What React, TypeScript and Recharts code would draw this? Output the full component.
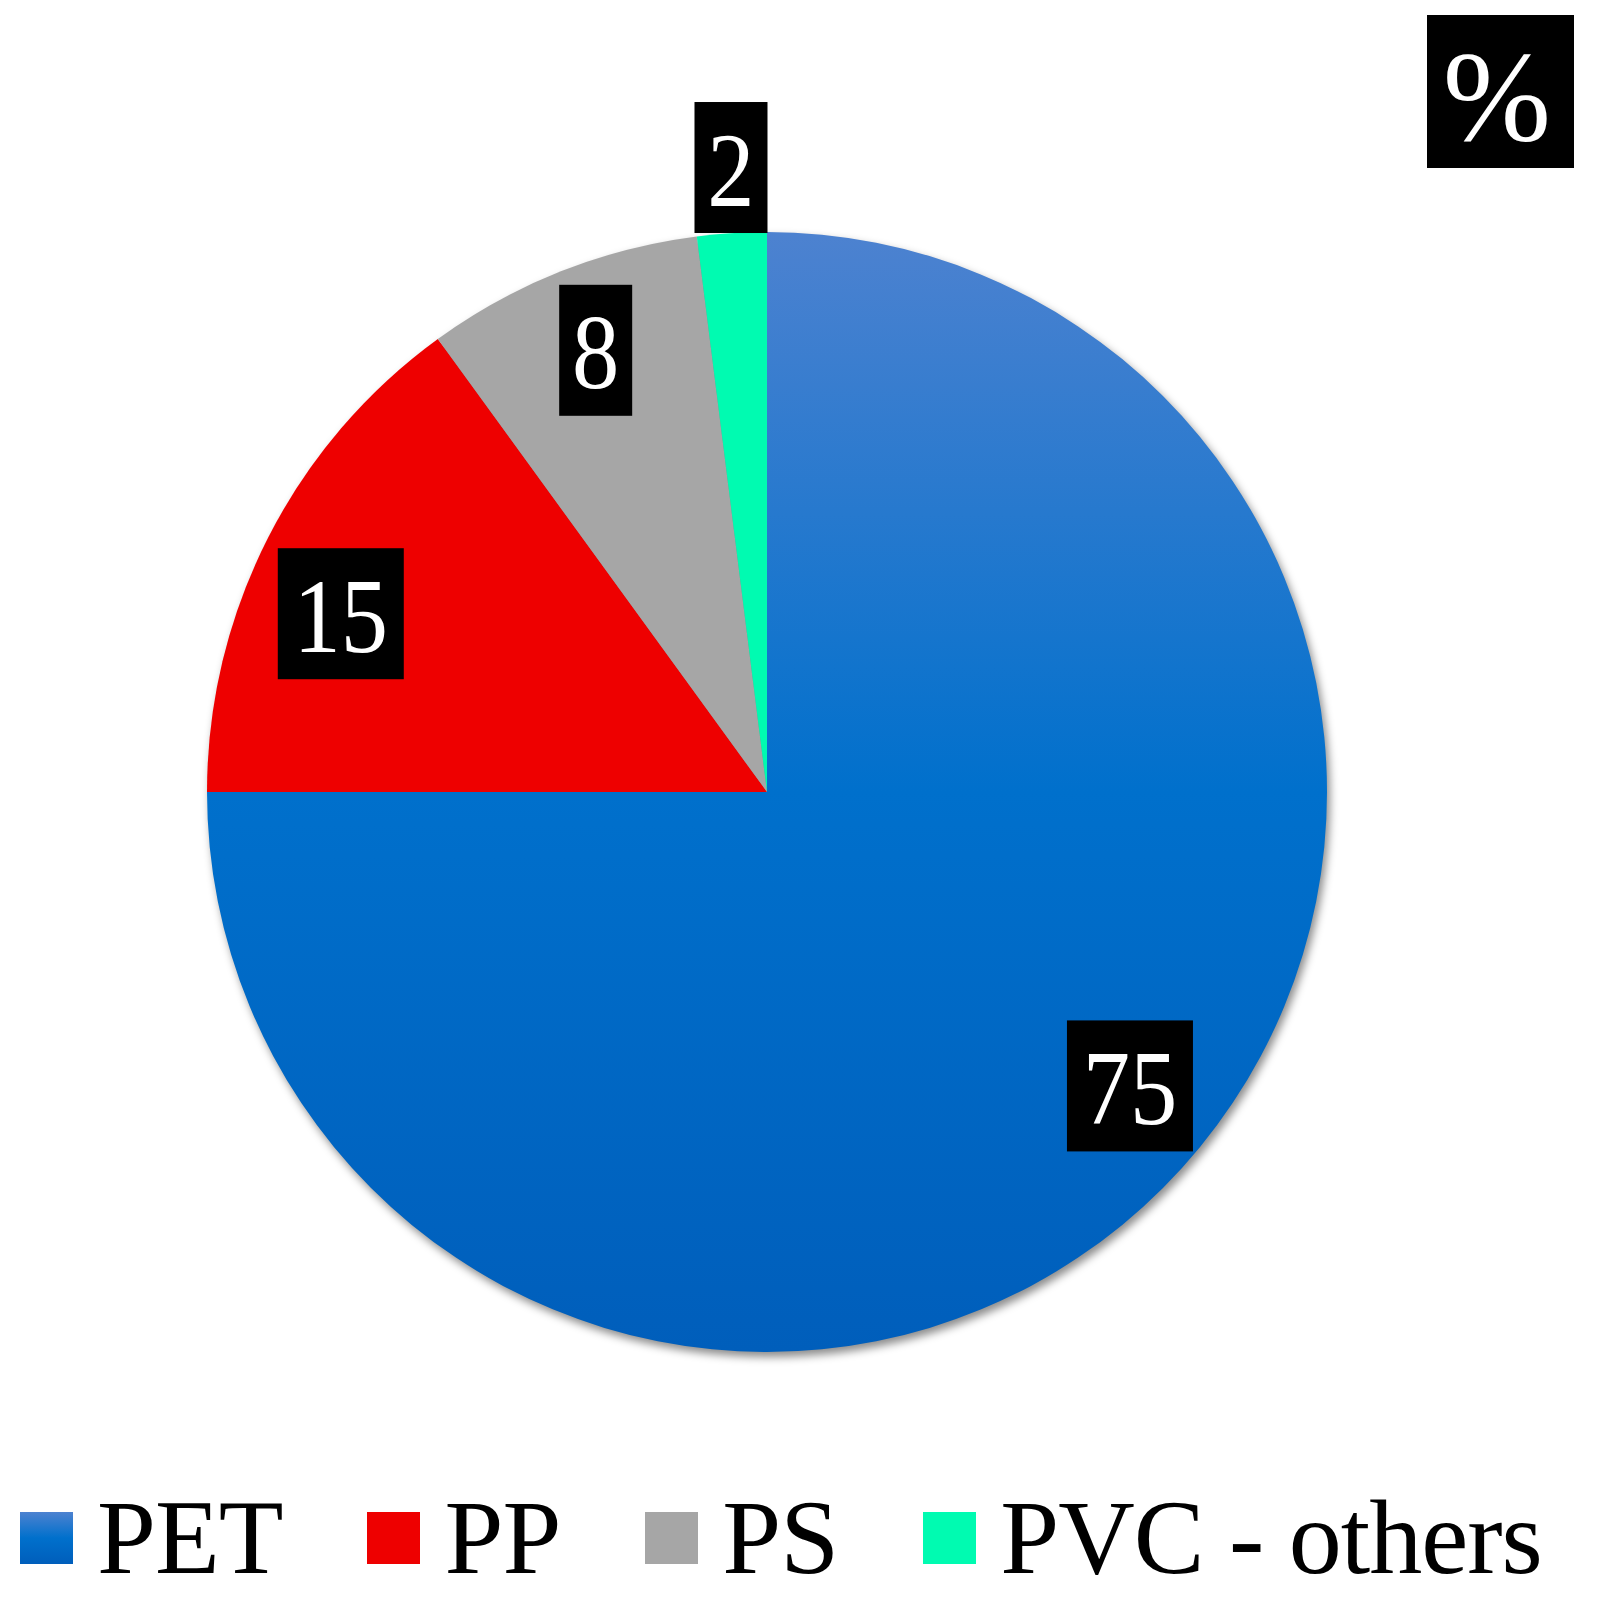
import React from 'react';
import { PieChart, Pie, Cell, Legend } from 'recharts';

const categories = ['PET', 'PP', 'PS', 'PVC - others'];
const shares = [75, 15, 8, 2];

const data = categories.map((name, i) => ({ name, value: shares[i] }));
const whole = [{ name: 'all', value: shares.reduce((a, b) => a + b, 0) }];

const FILLS = ['url(#petFill)', '#EE0000', '#A6A6A6', '#00FBB1'];
const SWATCHES = ['linear-gradient(#4d82d0, #0070cc 50%, #005ebb)', '#EE0000', '#A6A6A6', '#00FBB1'];

// where each value box sits: distance as share of radius, angle shift in degrees
const LABEL_POS = [
  { r: 0.834, shift: 6 },
  { r: 0.825, shift: 4.3 },
  { r: 0.846, shift: -0.4 },
  { r: 1.117, shift: -0.3 },
];

const SERIF = "'Liberation Serif', 'Times New Roman', serif";
const RAD = Math.PI / 180;

const renderLabel = (props: any) => {
  const { cx, cy, midAngle, outerRadius, index, value } = props;
  const pos = LABEL_POS[index];
  const a = (midAngle + pos.shift) * RAD;
  const x = cx + outerRadius * pos.r * Math.cos(a);
  const y = cy - outerRadius * pos.r * Math.sin(a);
  const text = String(value);
  const w = text.length * 53 + 20;
  const h = 131;
  return (
    <g key={`lbl-${index}`}>
      <rect x={x - w / 2} y={y - h / 2} width={w} height={h} fill="#000" />
      <text
        transform={`translate(${x},${y + 38}) scale(0.9,1)`}
        textAnchor="middle"
        fill="#fff"
        fontSize={105}
        fontFamily={SERIF}
      >
        {text}
      </text>
    </g>
  );
};

const renderLegend = () => (
  <div style={{ display: 'flex', alignItems: 'center' }}>
    {categories.map((c, i) => (
      <div key={c} style={{ display: 'flex', alignItems: 'center', marginRight: 85 }}>
        <span style={{ display: 'inline-block', width: 53, height: 52, background: SWATCHES[i], marginRight: 24 }} />
        <span style={{ fontFamily: SERIF, fontSize: 106, lineHeight: '106px', letterSpacing: -1, color: '#000', whiteSpace: 'nowrap' }}>
          {c}
        </span>
      </div>
    ))}
  </div>
);

export default function App() {
  return (
    <div style={{ position: 'relative', width: 1598, height: 1606, background: '#fff' }}>
      <style>{`body{margin:0}`}</style>
      <PieChart width={1598} height={1606} margin={{ top: 0, right: 0, bottom: 0, left: 0 }}>
        <defs>
          <linearGradient id="petFill" x1="0" y1="0" x2="0" y2="1">
            <stop offset="0%" stopColor="#4d82d0" />
            <stop offset="50%" stopColor="#0070cc" />
            <stop offset="100%" stopColor="#005ebb" />
          </linearGradient>
          <filter id="pieShadow" x="-10%" y="-10%" width="120%" height="120%">
            <feGaussianBlur stdDeviation="4" />
          </filter>
        </defs>
        <Pie
          data={whole}
          dataKey="value"
          cx={770}
          cy={797}
          outerRadius={560}
          startAngle={90}
          endAngle={-270}
          stroke="none"
          isAnimationActive={false}
          legendType="none"
        >
          <Cell fill="#000" fillOpacity={0.45} filter="url(#pieShadow)" />
        </Pie>
        <Pie
          data={data}
          dataKey="value"
          nameKey="name"
          cx={767}
          cy={792}
          outerRadius={560}
          startAngle={90}
          endAngle={-270}
          stroke="none"
          labelLine={false}
          label={renderLabel}
          isAnimationActive={false}
        >
          {data.map((d, i) => (
            <Cell key={d.name} fill={FILLS[i]} />
          ))}
        </Pie>
        <Legend
          verticalAlign="bottom"
          content={renderLegend}
          wrapperStyle={{ position: 'absolute', left: 20, top: 1485, width: 1578, bottom: 'auto' }}
        />
      </PieChart>
      <svg style={{ position: 'absolute', left: 1427, top: 15 }} width={147} height={153}>
        <rect x={0} y={0} width={147} height={153} fill="#000" />
        <text x={70} y={125} textAnchor="middle" fill="#fff" fontSize={130} fontFamily={SERIF}>
          %
        </text>
      </svg>
    </div>
  );
}
